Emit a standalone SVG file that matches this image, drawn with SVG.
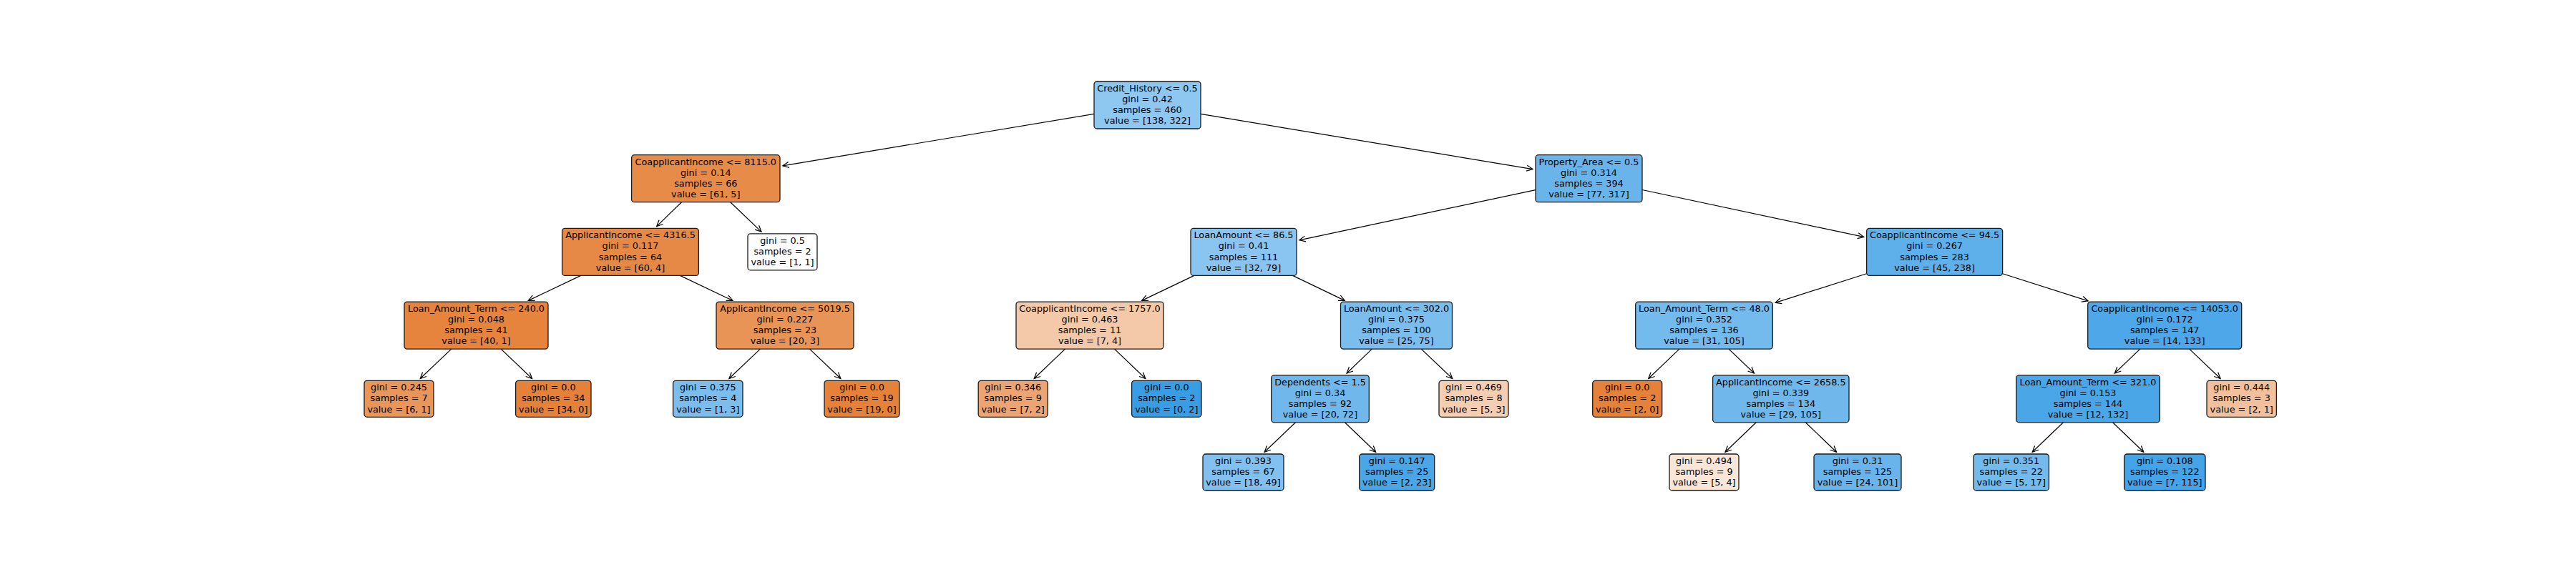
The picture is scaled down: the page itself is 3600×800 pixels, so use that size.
<svg xmlns="http://www.w3.org/2000/svg" width="3600" height="800" viewBox="0 0 3600 800">
<style>
.box{stroke:#1a1a1a;stroke-width:1.3}
.t{font-family:"DejaVu Sans","Liberation Sans",sans-serif;font-size:12.8px;fill:#000;text-anchor:middle}
.e{stroke:#000;stroke-width:1.2;fill:none;marker-end:url(#arr)}
</style>
<defs>
<marker id="arr" markerUnits="userSpaceOnUse" markerWidth="12" markerHeight="10" refX="10" refY="5" orient="auto" viewBox="0 0 12 10">
<path d="M1.5,1 L10,5 L1.5,9" fill="none" stroke="#000" stroke-width="1.2"/>
</marker>
</defs>
<rect width="3600" height="800" fill="#fff"/>
<g id="edges">
<line class="e" x1="1529" y1="159.4" x2="1093.9" y2="231.8"/>
<line class="e" x1="1678" y1="159.4" x2="2142" y2="236.6"/>
<line class="e" x1="952.5" y1="282.7" x2="917.7" y2="316.6"/>
<line class="e" x1="1020.7" y1="282.7" x2="1064" y2="324.1"/>
<line class="e" x1="811.8" y1="385.4" x2="738.3" y2="420.4"/>
<line class="e" x1="950.4" y1="385.4" x2="1024" y2="420.4"/>
<line class="e" x1="630.8" y1="488.1" x2="587.2" y2="529.5"/>
<line class="e" x1="700.1" y1="488.1" x2="743.6" y2="529.5"/>
<line class="e" x1="1062.4" y1="488.1" x2="1018.9" y2="529.5"/>
<line class="e" x1="1131.5" y1="488.1" x2="1174.9" y2="529.5"/>
<line class="e" x1="2146" y1="265.6" x2="1815.9" y2="335.8"/>
<line class="e" x1="2295" y1="265.5" x2="2604.7" y2="331.4"/>
<line class="e" x1="1668.9" y1="385.4" x2="1595.7" y2="420.4"/>
<line class="e" x1="1806.6" y1="385.4" x2="1879.3" y2="420.4"/>
<line class="e" x1="2608.6" y1="382.7" x2="2481.1" y2="423.4"/>
<line class="e" x1="2798.6" y1="382.7" x2="2918.1" y2="420.9"/>
<line class="e" x1="1488.5" y1="488.1" x2="1445.2" y2="529.5"/>
<line class="e" x1="1557.5" y1="488.1" x2="1600.8" y2="529.5"/>
<line class="e" x1="1917.3" y1="488.1" x2="1882.1" y2="522"/>
<line class="e" x1="1986.2" y1="488.1" x2="2029.8" y2="529.5"/>
<line class="e" x1="2347" y1="488.1" x2="2303.7" y2="529.5"/>
<line class="e" x1="2416" y1="488.1" x2="2451.4" y2="522"/>
<line class="e" x1="2990.8" y1="488.1" x2="2955.4" y2="522"/>
<line class="e" x1="3059.7" y1="488.1" x2="3103.1" y2="529.5"/>
<line class="e" x1="1810.5" y1="590.8" x2="1767.1" y2="632.2"/>
<line class="e" x1="1879.4" y1="590.8" x2="1922.7" y2="632.2"/>
<line class="e" x1="2454.3" y1="590.8" x2="2411" y2="632.2"/>
<line class="e" x1="2523.2" y1="590.8" x2="2566.5" y2="632.2"/>
<line class="e" x1="2883.5" y1="590.8" x2="2840.2" y2="632.2"/>
<line class="e" x1="2952.5" y1="590.8" x2="2995.8" y2="632.2"/>
</g>
<g id="n0"><rect class="box" x="1529" y="114" width="149" height="66" rx="4" fill="rgb(142,199,240)"/><text class="t" y="127.95"><tspan x="1603.5">Credit_History &lt;= 0.5</tspan><tspan x="1603.5" dy="15.1">gini = 0.42</tspan><tspan x="1603.5" dy="15.1">samples = 460</tspan><tspan x="1603.5" dy="15.1">value = [138, 322]</tspan></text></g>
<g id="n1"><rect class="box" x="882.6" y="216.7" width="207.4" height="66" rx="4" fill="rgb(231,139,73)"/><text class="t" y="230.65"><tspan x="986.3">CoapplicantIncome &lt;= 8115.0</tspan><tspan x="986.3" dy="15.1">gini = 0.14</tspan><tspan x="986.3" dy="15.1">samples = 66</tspan><tspan x="986.3" dy="15.1">value = [61, 5]</tspan></text></g>
<g id="n2"><rect class="box" x="785.6" y="319.4" width="190.8" height="66" rx="4" fill="rgb(231,137,70)"/><text class="t" y="333.35"><tspan x="881">ApplicantIncome &lt;= 4316.5</tspan><tspan x="881" dy="15.1">gini = 0.117</tspan><tspan x="881" dy="15.1">samples = 64</tspan><tspan x="881" dy="15.1">value = [60, 4]</tspan></text></g>
<g id="n3"><rect class="box" x="1045" y="326.9" width="97" height="51" rx="4" fill="#ffffff"/><text class="t" y="340.9"><tspan x="1093.5">gini = 0.5</tspan><tspan x="1093.5" dy="15.1">samples = 2</tspan><tspan x="1093.5" dy="15.1">value = [1, 1]</tspan></text></g>
<g id="n4"><rect class="box" x="565" y="422.1" width="201" height="66" rx="4" fill="rgb(230,132,62)"/><text class="t" y="436.05"><tspan x="665.5">Loan_Amount_Term &lt;= 240.0</tspan><tspan x="665.5" dy="15.1">gini = 0.048</tspan><tspan x="665.5" dy="15.1">samples = 41</tspan><tspan x="665.5" dy="15.1">value = [40, 1]</tspan></text></g>
<g id="n5"><rect class="box" x="1001" y="422.1" width="192" height="66" rx="4" fill="rgb(233,148,87)"/><text class="t" y="436.05"><tspan x="1097">ApplicantIncome &lt;= 5019.5</tspan><tspan x="1097" dy="15.1">gini = 0.227</tspan><tspan x="1097" dy="15.1">samples = 23</tspan><tspan x="1097" dy="15.1">value = [20, 3]</tspan></text></g>
<g id="n6"><rect class="box" x="509" y="532.3" width="97" height="51" rx="4" fill="rgb(233,150,90)"/><text class="t" y="546.3"><tspan x="557.5">gini = 0.245</tspan><tspan x="557.5" dy="15.1">samples = 7</tspan><tspan x="557.5" dy="15.1">value = [6, 1]</tspan></text></g>
<g id="n7"><rect class="box" x="720.6" y="532.3" width="105.4" height="51" rx="4" fill="rgb(229,129,57)"/><text class="t" y="546.3"><tspan x="773.3">gini = 0.0</tspan><tspan x="773.3" dy="15.1">samples = 34</tspan><tspan x="773.3" dy="15.1">value = [34, 0]</tspan></text></g>
<g id="n8"><rect class="box" x="940.6" y="532.3" width="97.4" height="51" rx="4" fill="rgb(123,190,238)"/><text class="t" y="546.3"><tspan x="989.3">gini = 0.375</tspan><tspan x="989.3" dy="15.1">samples = 4</tspan><tspan x="989.3" dy="15.1">value = [1, 3]</tspan></text></g>
<g id="n9"><rect class="box" x="1152" y="532.3" width="105" height="51" rx="4" fill="rgb(229,129,57)"/><text class="t" y="546.3"><tspan x="1204.5">gini = 0.0</tspan><tspan x="1204.5" dy="15.1">samples = 19</tspan><tspan x="1204.5" dy="15.1">value = [19, 0]</tspan></text></g>
<g id="n10"><rect class="box" x="2146" y="216.7" width="149" height="66" rx="4" fill="rgb(105,181,235)"/><text class="t" y="230.65"><tspan x="2220.5">Property_Area &lt;= 0.5</tspan><tspan x="2220.5" dy="15.1">gini = 0.314</tspan><tspan x="2220.5" dy="15.1">samples = 394</tspan><tspan x="2220.5" dy="15.1">value = [77, 317]</tspan></text></g>
<g id="n11"><rect class="box" x="1664" y="319.4" width="148" height="66" rx="4" fill="rgb(137,197,240)"/><text class="t" y="333.35"><tspan x="1738">LoanAmount &lt;= 86.5</tspan><tspan x="1738" dy="15.1">gini = 0.41</tspan><tspan x="1738" dy="15.1">samples = 111</tspan><tspan x="1738" dy="15.1">value = [32, 79]</tspan></text></g>
<g id="n12"><rect class="box" x="2608.6" y="319.4" width="190" height="66" rx="4" fill="rgb(94,176,234)"/><text class="t" y="333.35"><tspan x="2703.6">CoapplicantIncome &lt;= 94.5</tspan><tspan x="2703.6" dy="15.1">gini = 0.267</tspan><tspan x="2703.6" dy="15.1">samples = 283</tspan><tspan x="2703.6" dy="15.1">value = [45, 238]</tspan></text></g>
<g id="n13"><rect class="box" x="1420" y="422.1" width="206" height="66" rx="4" fill="rgb(244,201,170)"/><text class="t" y="436.05"><tspan x="1523">CoapplicantIncome &lt;= 1757.0</tspan><tspan x="1523" dy="15.1">gini = 0.463</tspan><tspan x="1523" dy="15.1">samples = 11</tspan><tspan x="1523" dy="15.1">value = [7, 4]</tspan></text></g>
<g id="n14"><rect class="box" x="1873.5" y="422.1" width="156" height="66" rx="4" fill="rgb(123,190,238)"/><text class="t" y="436.05"><tspan x="1951.5">LoanAmount &lt;= 302.0</tspan><tspan x="1951.5" dy="15.1">gini = 0.375</tspan><tspan x="1951.5" dy="15.1">samples = 100</tspan><tspan x="1951.5" dy="15.1">value = [25, 75]</tspan></text></g>
<g id="n15"><rect class="box" x="2285.7" y="422.1" width="191.6" height="66" rx="4" fill="rgb(115,186,237)"/><text class="t" y="436.05"><tspan x="2381.5">Loan_Amount_Term &lt;= 48.0</tspan><tspan x="2381.5" dy="15.1">gini = 0.352</tspan><tspan x="2381.5" dy="15.1">samples = 136</tspan><tspan x="2381.5" dy="15.1">value = [31, 105]</tspan></text></g>
<g id="n16"><rect class="box" x="2917.7" y="422.1" width="215" height="66" rx="4" fill="rgb(78,167,232)"/><text class="t" y="436.05"><tspan x="3025.2">CoapplicantIncome &lt;= 14053.0</tspan><tspan x="3025.2" dy="15.1">gini = 0.172</tspan><tspan x="3025.2" dy="15.1">samples = 147</tspan><tspan x="3025.2" dy="15.1">value = [14, 133]</tspan></text></g>
<g id="n17"><rect class="box" x="1367.2" y="532.3" width="97" height="51" rx="4" fill="rgb(236,165,114)"/><text class="t" y="546.3"><tspan x="1415.7">gini = 0.346</tspan><tspan x="1415.7" dy="15.1">samples = 9</tspan><tspan x="1415.7" dy="15.1">value = [7, 2]</tspan></text></g>
<g id="n18"><rect class="box" x="1581.6" y="532.3" width="97.4" height="51" rx="4" fill="rgb(57,157,229)"/><text class="t" y="546.3"><tspan x="1630.3">gini = 0.0</tspan><tspan x="1630.3" dy="15.1">samples = 2</tspan><tspan x="1630.3" dy="15.1">value = [0, 2]</tspan></text></g>
<g id="n19"><rect class="box" x="1776.7" y="524.8" width="136.6" height="66" rx="4" fill="rgb(112,184,236)"/><text class="t" y="538.75"><tspan x="1845">Dependents &lt;= 1.5</tspan><tspan x="1845" dy="15.1">gini = 0.34</tspan><tspan x="1845" dy="15.1">samples = 92</tspan><tspan x="1845" dy="15.1">value = [20, 72]</tspan></text></g>
<g id="n20"><rect class="box" x="2011" y="532.3" width="97" height="51" rx="4" fill="rgb(245,205,176)"/><text class="t" y="546.3"><tspan x="2059.5">gini = 0.469</tspan><tspan x="2059.5" dy="15.1">samples = 8</tspan><tspan x="2059.5" dy="15.1">value = [5, 3]</tspan></text></g>
<g id="n21"><rect class="box" x="2225.7" y="532.3" width="97" height="51" rx="4" fill="rgb(229,129,57)"/><text class="t" y="546.3"><tspan x="2274.2">gini = 0.0</tspan><tspan x="2274.2" dy="15.1">samples = 2</tspan><tspan x="2274.2" dy="15.1">value = [2, 0]</tspan></text></g>
<g id="n22"><rect class="box" x="2393.6" y="524.8" width="190.4" height="66" rx="4" fill="rgb(112,184,236)"/><text class="t" y="538.75"><tspan x="2488.8">ApplicantIncome &lt;= 2658.5</tspan><tspan x="2488.8" dy="15.1">gini = 0.339</tspan><tspan x="2488.8" dy="15.1">samples = 134</tspan><tspan x="2488.8" dy="15.1">value = [29, 105]</tspan></text></g>
<g id="n23"><rect class="box" x="2817.7" y="524.8" width="200.6" height="66" rx="4" fill="rgb(75,166,231)"/><text class="t" y="538.75"><tspan x="2918">Loan_Amount_Term &lt;= 321.0</tspan><tspan x="2918" dy="15.1">gini = 0.153</tspan><tspan x="2918" dy="15.1">samples = 144</tspan><tspan x="2918" dy="15.1">value = [12, 132]</tspan></text></g>
<g id="n24"><rect class="box" x="3084" y="532.3" width="97.4" height="51" rx="4" fill="rgb(242,192,156)"/><text class="t" y="546.3"><tspan x="3132.7">gini = 0.444</tspan><tspan x="3132.7" dy="15.1">samples = 3</tspan><tspan x="3132.7" dy="15.1">value = [2, 1]</tspan></text></g>
<g id="n25"><rect class="box" x="1681" y="635" width="113" height="51" rx="4" fill="rgb(130,193,239)"/><text class="t" y="649"><tspan x="1737.5">gini = 0.393</tspan><tspan x="1737.5" dy="15.1">samples = 67</tspan><tspan x="1737.5" dy="15.1">value = [18, 49]</tspan></text></g>
<g id="n26"><rect class="box" x="1899.7" y="635" width="105" height="51" rx="4" fill="rgb(74,166,231)"/><text class="t" y="649"><tspan x="1952.2">gini = 0.147</tspan><tspan x="1952.2" dy="15.1">samples = 25</tspan><tspan x="1952.2" dy="15.1">value = [2, 23]</tspan></text></g>
<g id="n27"><rect class="box" x="2333" y="635" width="97" height="51" rx="4" fill="rgb(250,230,215)"/><text class="t" y="649"><tspan x="2381.5">gini = 0.494</tspan><tspan x="2381.5" dy="15.1">samples = 9</tspan><tspan x="2381.5" dy="15.1">value = [5, 4]</tspan></text></g>
<g id="n28"><rect class="box" x="2535" y="635" width="122" height="51" rx="4" fill="rgb(104,180,235)"/><text class="t" y="649"><tspan x="2596">gini = 0.31</tspan><tspan x="2596" dy="15.1">samples = 125</tspan><tspan x="2596" dy="15.1">value = [24, 101]</tspan></text></g>
<g id="n29"><rect class="box" x="2758" y="635" width="105.4" height="51" rx="4" fill="rgb(115,186,237)"/><text class="t" y="649"><tspan x="2810.7">gini = 0.351</tspan><tspan x="2810.7" dy="15.1">samples = 22</tspan><tspan x="2810.7" dy="15.1">value = [5, 17]</tspan></text></g>
<g id="n30"><rect class="box" x="2968.6" y="635" width="113.4" height="51" rx="4" fill="rgb(69,163,231)"/><text class="t" y="649"><tspan x="3025.3">gini = 0.108</tspan><tspan x="3025.3" dy="15.1">samples = 122</tspan><tspan x="3025.3" dy="15.1">value = [7, 115]</tspan></text></g>
</svg>
